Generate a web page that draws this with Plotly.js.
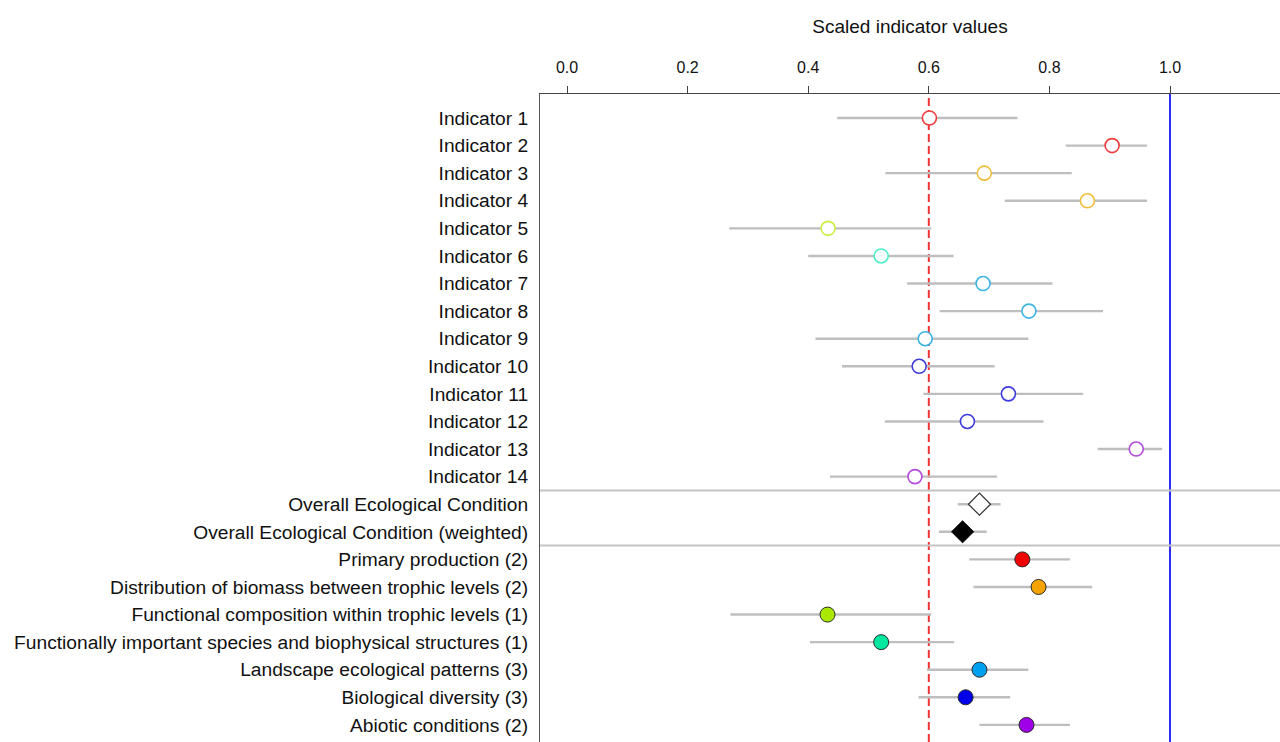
<!DOCTYPE html>
<html>
<head>
<meta charset="utf-8">
<script src="https://cdn.plot.ly/plotly-3.0.1.min.js"></script>
<style>html,body{margin:0;padding:0;background:#fff;}#chart{width:1280px;height:742px;}</style>
</head>
<body>
<div id="chart"></div>
<script>
// ---- Data ----
const indicatorLabels = ['Indicator 1','Indicator 2','Indicator 3','Indicator 4','Indicator 5','Indicator 6','Indicator 7',
  'Indicator 8','Indicator 9','Indicator 10','Indicator 11','Indicator 12','Indicator 13','Indicator 14'];
const indicatorValues = [0.601,0.904,0.692,0.863,0.433,0.521,0.690,0.766,0.594,0.584,0.732,0.664,0.944,0.577];
const indicatorLower  = [0.448,0.827,0.528,0.726,0.269,0.400,0.564,0.618,0.412,0.456,0.591,0.527,0.880,0.436];
const indicatorUpper  = [0.747,0.962,0.837,0.962,0.604,0.641,0.805,0.889,0.765,0.709,0.856,0.790,0.987,0.713];

const overallLabels = ['Overall Ecological Condition','Overall Ecological Condition (weighted)'];
const overallValues = [0.684,0.656];
const overallLower  = [0.648,0.617];
const overallUpper  = [0.719,0.696];

const componentLabels = ['Primary production (2)','Distribution of biomass between trophic levels (2)',
  'Functional composition within trophic levels (1)','Functionally important species and biophysical structures (1)',
  'Landscape ecological patterns (3)','Biological diversity (3)','Abiotic conditions (2)'];
const componentValues = [0.755,0.782,0.432,0.521,0.684,0.661,0.762];
const componentLower  = [0.667,0.674,0.271,0.403,0.597,0.583,0.684];
const componentUpper  = [0.834,0.871,0.604,0.642,0.765,0.735,0.834];
const componentIndicatorCounts = [2,2,1,1,3,3,2];

const thresholdValue = 0.6;
const referenceValue = 1.0;
const xTickValues = [0,0.2,0.4,0.6,0.8,1.0];
const xTickLabels = ['0.0','0.2','0.4','0.6','0.8','1.0'];

// ---- Styles ----
const openColors   = ['#EE3B3B','#F0BE3C','#C8F03C','#4CEEC8','#3CB4E6','#3C3CDC','#B44CDC'];
const filledColors = ['#F00000','#F5A300','#AAE800','#00E8A0','#00A0F0','#0000E8','#A000E8'];
const barColor = '#BEBEBE';

// group index of each indicator
const indicatorGroup = [];
componentIndicatorCounts.forEach((n,g)=>{ for(let i=0;i<n;i++) indicatorGroup.push(g); });

const nInd = indicatorLabels.length, nOv = overallLabels.length, nComp = componentLabels.length;
const indRows = indicatorLabels.map((_,i)=>i);
const ovRows = overallLabels.map((_,i)=>nInd+i);
const compRows = componentLabels.map((_,i)=>nInd+nOv+i);
const allLabels = indicatorLabels.concat(overallLabels, componentLabels);
const allRows = indRows.concat(ovRows, compRows);

function errx(v, lo, hi){
  return {type:'data', symmetric:false,
    array: v.map((x,i)=>hi[i]-x), arrayminus: v.map((x,i)=>x-lo[i]),
    color: barColor, thickness: 2.4, width: 0};
}

const traces = [
  {type:'scatter', mode:'markers', x: indicatorValues, y: indRows,
   error_x: errx(indicatorValues, indicatorLower, indicatorUpper),
   marker:{symbol:'circle', size:14, color:'#ffffff', opacity:1,
     line:{color: indicatorGroup.map(g=>openColors[g]), width:1.6}}},
  {type:'scatter', mode:'markers', x: [overallValues[0]], y: [ovRows[0]],
   error_x: errx([overallValues[0]], [overallLower[0]], [overallUpper[0]]),
   marker:{symbol:'diamond', size:17, color:'#ffffff', opacity:1,
     line:{color:'#333333', width:1.2}}},
  {type:'scatter', mode:'markers', x: [overallValues[1]], y: [ovRows[1]],
   error_x: errx([overallValues[1]], [overallLower[1]], [overallUpper[1]]),
   marker:{symbol:'diamond', size:17, color:'#000000', opacity:1,
     line:{color:'#000000', width:1}}},
  {type:'scatter', mode:'markers', x: componentValues, y: compRows,
   error_x: errx(componentValues, componentLower, componentUpper),
   marker:{symbol:'circle', size:15, color: filledColors, opacity:1,
     line:{color:'#2a2a2a', width:1}}}
];

const shapes = [
  {type:'line', xref:'x', yref:'paper', x0:thresholdValue, x1:thresholdValue, y0:0, y1:1,
   line:{color:'#F03434', width:2, dash:'8px,4px'}, layer:'below'},
  {type:'line', xref:'x', yref:'paper', x0:referenceValue, x1:referenceValue, y0:0, y1:1,
   line:{color:'#2B2BF5', width:2}, layer:'below'},
  {type:'line', xref:'paper', yref:'y', x0:0, x1:1, y0:nInd-0.5, y1:nInd-0.5,
   line:{color:'#C4C4C4', width:2}, layer:'below'},
  {type:'line', xref:'paper', yref:'y', x0:0, x1:1, y0:nInd+nOv-0.5, y1:nInd+nOv-0.5,
   line:{color:'#C4C4C4', width:2}, layer:'below'}
];

const layout = {
  width:1280, height:742,
  margin:{l:540, r:0, t:94, b:0, pad:0},
  paper_bgcolor:'#ffffff', plot_bgcolor:'#ffffff',
  showlegend:false,
  font:{family:'Liberation Sans, Arial, sans-serif', color:'#111111'},
  xaxis:{side:'top', range:[-0.0448, 1.1824], tickvals:xTickValues, ticktext:xTickLabels,
    ticks:'outside', ticklen:7, tickwidth:1, tickcolor:'#444', showline:true, linecolor:'#444', linewidth:1,
    showgrid:false, zeroline:false, tickfont:{size:16, color:'#111111'}, ticklabelstandoff:7,
    title:{text:'Scaled indicator values', font:{size:19, color:'#111111'}, standoff:19}},
  yaxis:{range:[22.62, -0.87], tickvals: allRows, ticktext: allLabels, ticks:'',
    showline:true, linecolor:'#555', linewidth:1, showgrid:false, zeroline:false,
    tickfont:{size:19.2, color:'#111111'}, ticklabelstandoff:7},
  shapes: shapes
};

Plotly.newPlot('chart', traces, layout, {displayModeBar:false, staticPlot:true});
</script>
</body>
</html>
